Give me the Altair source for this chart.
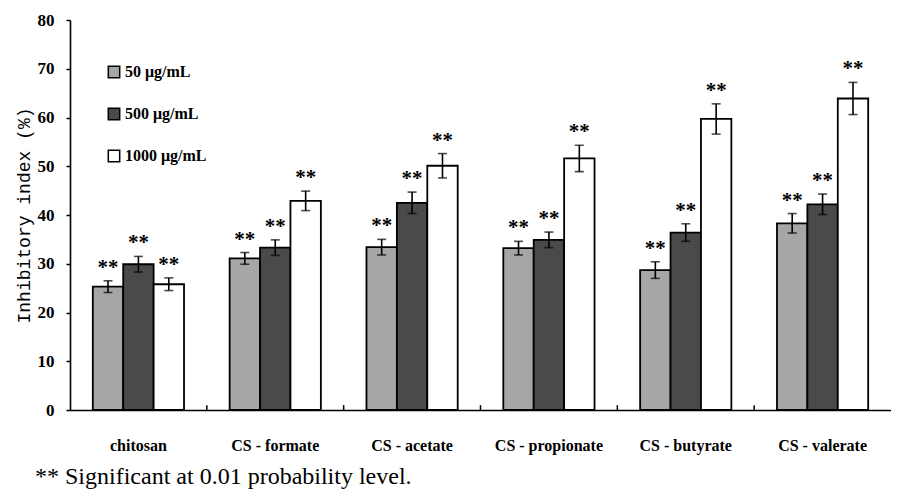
import altair as alt
import pandas as pd

categories = ["chitosan", "CS - formate", "CS - acetate", "CS - propionate", "CS - butyrate", "CS - valerate"]
conc = ["50 μg/mL", "500 μg/mL", "1000 μg/mL"]
v50 = [25.3, 31.1, 33.4, 33.2, 28.7, 38.3]
v500 = [29.9, 33.3, 42.5, 34.9, 36.4, 42.2]
v1000 = [25.8, 42.9, 50.1, 51.6, 59.7, 63.9]
e50 = [1.2, 1.2, 1.6, 1.4, 1.7, 2.0]
e500 = [1.6, 1.6, 2.2, 1.6, 1.8, 2.1]
e1000 = [1.3, 2.0, 2.5, 2.7, 3.1, 3.3]
colors = ["#a6a6a6", "#4a4a4a", "#ffffff"]
ytitle = "Inhibitory index (%)"

rows = []
for i, c in enumerate(categories):
    for k, vals, errs in zip(conc, [v50, v500, v1000], [e50, e500, e1000]):
        rows.append(dict(cat=c, conc=k, value=vals[i], lo=vals[i] - errs[i],
                         hi=vals[i] + errs[i], star="**"))
df = pd.DataFrame(rows)
bounds = pd.DataFrame({"cat": categories[1:]})

LF = "Liberation Serif"

xenc = alt.X("cat:N", sort=categories,
             scale=alt.Scale(paddingInner=0, paddingOuter=0),
             axis=alt.Axis(title=None, labelAngle=0, tickSize=0, labelPadding=27,
                           labelFont=LF, labelFontSize=16, labelFontWeight="bold",
                           labelColor="black", domainColor="black", domainWidth=1.6))
xoff = alt.XOffset("conc:N", sort=conc, scale=alt.Scale(paddingOuter=0.75, paddingInner=0))
yscale = alt.Scale(domain=[0, 80])
yaxis = alt.Axis(values=list(range(0, 81, 10)), grid=False, tickSize=4, tickColor="black",
                 tickWidth=1.5, domainColor="black", domainWidth=1.6, labelPadding=12,
                 labelFont=LF, labelFontSize=17, labelFontWeight="bold", labelColor="black",
                 titleFont="Liberation Mono", titleFontSize=18, titleFontWeight="normal",
                 titleColor="black", titlePadding=4)

base = alt.Chart(df)

bars = base.mark_bar(stroke="black", strokeWidth=1.8).encode(
    x=xenc, xOffset=xoff,
    y=alt.Y("value:Q", scale=yscale, axis=yaxis, title=ytitle),
    fill=alt.Fill("conc:N", sort=conc, scale=alt.Scale(domain=conc, range=colors),
                  legend=alt.Legend(title=None, orient="none", legendX=36, legendY=44,
                                    symbolType="square", symbolSize=130,
                                    symbolStrokeColor="black", symbolStrokeWidth=1.5,
                                    labelFont=LF, labelFontSize=16, labelFontWeight="bold",
                                    labelColor="black", rowPadding=24, labelOffset=3)),
)
errs = base.mark_rule(color="black", strokeWidth=1.6).encode(
    x=xenc, xOffset=xoff, y=alt.Y("lo:Q", title=ytitle), y2="hi:Q")
cap_hi = base.mark_tick(color="black", size=9, thickness=1.6).encode(
    x=xenc, xOffset=xoff, y=alt.Y("hi:Q", title=ytitle))
cap_lo = base.mark_tick(color="black", size=9, thickness=1.6).encode(
    x=xenc, xOffset=xoff, y=alt.Y("lo:Q", title=ytitle))
stars = base.mark_text(font=LF, fontSize=21, fontWeight="bold", color="black",
                       baseline="alphabetic", dy=-7).encode(
    x=xenc, xOffset=xoff, y=alt.Y("hi:Q", title=ytitle), text="star:N")
ticks = alt.Chart(bounds).mark_rule(color="black", strokeWidth=1.5).encode(
    x=alt.X("cat:N", sort=categories, bandPosition=0),
    y=alt.datum(0), y2=alt.datum(1.0))

chart = alt.layer(bars, errs, cap_hi, cap_lo, stars, ticks).properties(
    width=821, height=390,
    autosize=alt.AutoSizeParams(type="none"),
    padding={"left": 62, "top": 12, "right": 0, "bottom": 80},
    title=alt.TitleParams("** Significant at 0.01 probability level.", orient="bottom",
                          anchor="start", frame="group", dx=-35, offset=12, font=LF,
                          fontSize=24, fontWeight="normal", color="black"),
).configure_view(stroke=None)

chart.save("out.html", embed_options={"renderer": "svg", "actions": False})
